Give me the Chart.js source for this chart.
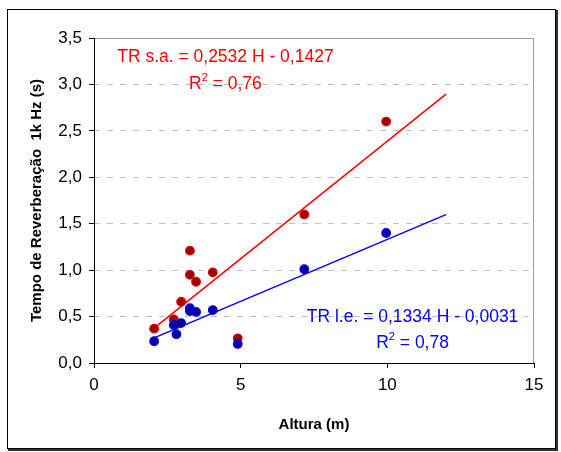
<!DOCTYPE html>
<html><head><meta charset="utf-8">
<script src="https://cdn.jsdelivr.net/npm/chart.js@4/dist/chart.umd.min.js"></script>
<style>html,body{margin:0;padding:0;background:#fff;}#wrap{width:561px;height:452px;position:relative;}</style>
</head><body><div id="wrap"><canvas id="c" width="561" height="452"></canvas></div>
<script>
// Data
const saX = [2.05, 2.72, 2.81, 2.97, 3.27, 3.27, 3.48, 4.05, 4.90, 7.17, 9.96];
const saY = [0.37, 0.47, 0.42, 0.66, 1.21, 0.95, 0.875, 0.976, 0.266, 1.60, 2.60];
const leX = [2.05, 2.72, 2.81, 2.97, 3.27, 3.27, 3.48, 4.05, 4.90, 7.17, 9.96];
const leY = [0.234, 0.41, 0.31, 0.43, 0.59, 0.56, 0.55, 0.57, 0.205, 1.01, 1.40];
// Trendline equations printed on the chart
const saFit = {slope: 0.2532, intercept: -0.1427, r2: '0,76'};
const leFit = {slope: 0.1334, intercept: -0.0031, r2: '0,78'};
const fitRange = [2.05, 12];
const xTicks = [0, 5, 10, 15];
const yTicks = [0, 0.5, 1, 1.5, 2, 2.5, 3, 3.5];

const pts = (xs, ys) => xs.map((x, i) => ({x, y: ys[i]}));
const fitPts = f => fitRange.map(x => ({x, y: f.slope * x + f.intercept}));
const FONT = "'Liberation Sans', Arial, sans-serif";

const deco = {
  id: 'deco',
  beforeDraw(chart) {
    const ctx = chart.ctx;
    ctx.save();
    ctx.fillStyle = '#fff';
    ctx.fillRect(0, 0, chart.width, chart.height);
    ctx.restore();
  },
  afterDraw(chart) {
    const ctx = chart.ctx, a = chart.chartArea;
    const xs = chart.scales.x, ys = chart.scales.y;
    ctx.save();
    ctx.setLineDash([]);
    ctx.strokeStyle = '#999';
    ctx.lineWidth = 1;
    ctx.beginPath();
    ctx.moveTo(a.left, a.top + 0.5);
    ctx.lineTo(a.right - 0.5, a.top + 0.5);
    ctx.lineTo(a.right - 0.5, a.bottom);
    ctx.stroke();
    ctx.strokeStyle = '#000';
    ctx.beginPath();
    ctx.moveTo(a.left + 0.5, a.top);
    ctx.lineTo(a.left + 0.5, a.bottom);
    ctx.stroke();
    ctx.lineWidth = 1;
    ctx.strokeRect(7.5, 9.5, 548, 439);
    ctx.strokeStyle = '#333';
    ctx.lineWidth = 2;
    ctx.beginPath();
    ctx.moveTo(557, 10);
    ctx.lineTo(557, 450);
    ctx.lineTo(8, 450);
    ctx.stroke();
    const drawEq = (color, cx, cy1, cy2, txt, r2) => {
      ctx.fillStyle = color;
      ctx.textBaseline = 'middle';
      ctx.textAlign = 'center';
      ctx.font = '17.5px ' + FONT;
      ctx.fillText(txt, cx, cy1);
      const a1 = 'R', a2 = ' = ' + r2;
      const w1 = ctx.measureText(a1).width, w3 = ctx.measureText(a2).width;
      ctx.font = '11px ' + FONT;
      const w2 = ctx.measureText('2').width;
      let x0 = cx - (w1 + w2 + w3) / 2;
      ctx.textAlign = 'left';
      ctx.font = '17.5px ' + FONT;
      ctx.fillText(a1, x0, cy2);
      ctx.font = '11px ' + FONT;
      ctx.fillText('2', x0 + w1, cy2 - 6);
      ctx.font = '17.5px ' + FONT;
      ctx.fillText(a2, x0 + w1 + w2, cy2);
    };
    drawEq('#ff0000', xs.getPixelForValue(4.48), ys.getPixelForValue(3.29), ys.getPixelForValue(3.0),
      'TR s.a. = 0,2532 H - 0,1427', saFit.r2);
    drawEq('#0000ff', xs.getPixelForValue(10.86), ys.getPixelForValue(0.495), ys.getPixelForValue(0.215),
      'TR l.e. = 0,1334 H - 0,0031', leFit.r2);
    ctx.restore();
  }
};

new Chart(document.getElementById('c'), {
  type: 'scatter',
  data: {
    datasets: [
      {label: 'fit s.a.', type: 'line', data: fitPts(saFit), borderColor: '#ff0000', borderWidth: 1.5,
        pointRadius: 0, fill: false, order: 3},
      {label: 'fit l.e.', type: 'line', data: fitPts(leFit), borderColor: '#0000ff', borderWidth: 1.5,
        pointRadius: 0, fill: false, order: 2},
      {label: 'TR s.a.', data: pts(saX, saY), backgroundColor: '#9c0000', borderColor: '#e00000',
        borderWidth: 1.2, pointRadius: 4.3, order: 1},
      {label: 'TR l.e.', data: pts(leX, leY), backgroundColor: '#000099', borderColor: '#0000f0',
        borderWidth: 1.2, pointRadius: 4.3, order: 0}
    ]
  },
  options: {
    responsive: false,
    animation: false,
    devicePixelRatio: 1,
    layout: {padding: {left: 28, top: 38, right: 27, bottom: 18}},
    plugins: {legend: {display: false}, tooltip: {enabled: false}},
    scales: {
      x: {
        type: 'linear', min: 0, max: 15,
        afterBuildTicks: s => { s.ticks = xTicks.map(v => ({value: v})); },
        afterFit: s => { s.height = 71; },
        border: {display: true, color: '#000', width: 1},
        grid: {drawOnChartArea: false, drawTicks: true, tickLength: 5, color: '#000'},
        ticks: {color: '#000', font: {family: FONT, size: 17}, padding: 7,
          callback: v => String(v)},
        title: {display: true, text: 'Altura (m)', color: '#000',
          font: {family: FONT, size: 15, weight: 'bold'}, padding: {top: 2, bottom: 0}}
      },
      y: {
        type: 'linear', min: 0, max: 3.5,
        afterBuildTicks: s => { s.ticks = yTicks.map(v => ({value: v})); },
        afterFit: s => { s.width = 66; },
        border: {display: false, dash: [6, 7]},
        grid: {color: '#c0c0c0', lineWidth: 1, drawTicks: true, tickLength: 5, tickColor: '#000',
          tickBorderDash: []},
        ticks: {color: '#000', font: {family: FONT, size: 17}, padding: 7,
          callback: v => v.toFixed(1).replace('.', ',')},
        title: {display: true, text: 'Tempo de Reverberação  1k Hz (s)', color: '#000',
          font: {family: FONT, size: 15, weight: 'bold'}, padding: {top: 0, bottom: 4}}
      }
    }
  },
  plugins: [deco]
});
</script>
</body></html>
